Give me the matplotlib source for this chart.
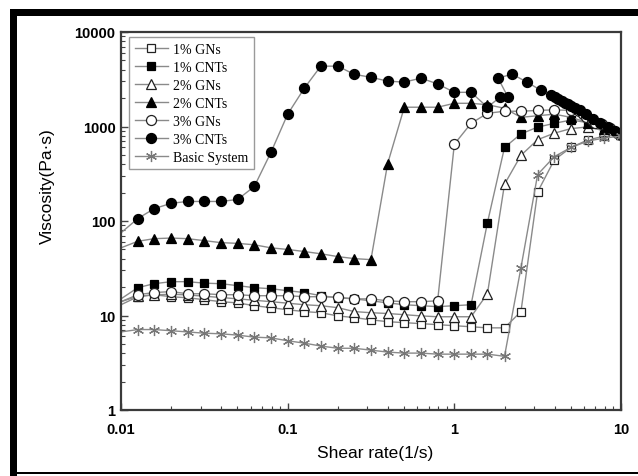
import matplotlib
matplotlib.use('Agg')
import matplotlib.pyplot as plt  # Plot stuff
from matplotlib.patches import Rectangle

# shear rate grid of the sweep (10 points per decade)
shear = [0.01, 0.0126, 0.0158, 0.02, 0.0251, 0.0316, 0.0398, 0.0501, 0.0631, 0.0794,
         0.1, 0.126, 0.158, 0.2, 0.251, 0.316, 0.398, 0.501, 0.631, 0.794,
         1.0, 1.26, 1.58, 2.0, 2.51, 3.16, 3.98, 5.01, 6.31, 7.94, 10.0]

gn1 = [13, 15.8, 16.6, 15.8, 15.4, 14.7, 14, 13.6, 12.7, 12.1,
       11.5, 11, 10.7, 9.9, 9.5, 9.0, 8.6, 8.4, 8.2, 8.0,
       7.8, 7.6, 7.4, 7.4, 11, 203, 443, 600, 720, 790, 820]

cnt1 = [15, 19.7, 21.7, 22.8, 22.8, 22, 21.7, 20.7, 19.7, 19.2,
        18.3, 17.5, 16.2, 15.4, 15, 14.3, 13.6, 13, 12.7, 12.4,
        12.7, 13, 96, 600, 835, 985, 1080, 1170, 1100, 950, 820]

gn2 = [14, 16, 16.5, 16.8, 16.5, 16, 15.5, 15, 14.5, 14,
       13.5, 13, 12.7, 12.1, 11, 10.7, 10.5, 10.2, 9.9, 9.7,
       9.7, 9.7, 17, 245, 495, 725, 850, 950, 990, 900, 830]

cnt2 = [52, 61, 65, 66, 65, 62, 59, 58, 56, 52,
        50, 47.5, 45, 42, 40, 39, 405, 1600, 1600, 1600,
        1760, 1760, 1700, 1560, 1250, 1300, 1350, 1250, 1100, 950, 830]

# 3% GNs has extra readings at the high shear end
shear_gn3 = [0.01, 0.0126, 0.0158, 0.02, 0.0251, 0.0316, 0.0398, 0.0501, 0.0631, 0.0794,
             0.1, 0.126, 0.158, 0.2, 0.251, 0.316, 0.398, 0.501, 0.631, 0.794,
             1.0, 1.26, 1.58, 2.0, 2.51, 3.16, 3.98, 5.0, 5.6, 5.9, 6.2, 6.7, 7.0, 7.7, 8.6, 9.4, 10.0]
gn3 = [14, 16.6, 17.5, 17.9, 17, 17, 16.6, 16.6, 16.2, 16.2,
       16.2, 15.8, 15.8, 15.6, 15, 15, 14.3, 14, 14, 14.3,
       650, 1080, 1380, 1450, 1450, 1480, 1500, 1480, 1450, 1340, 1250, 1160, 1100, 1050, 960, 850, 820]

# 3% CNTs goes back and forth around 2 1/s, then a dense tail
shear_cnt3 = [0.01, 0.0126, 0.0158, 0.02, 0.0251, 0.0316, 0.0398, 0.0501, 0.0631, 0.0794,
              0.1, 0.126, 0.158, 0.2, 0.251, 0.316, 0.398, 0.501, 0.631, 0.794,
              1.0, 1.26, 1.58, 1.88, 2.1, 1.83, 2.22, 2.73, 3.31,
              3.8, 4.0, 4.2, 4.4, 4.6, 4.8, 5.0, 5.3, 5.7, 6.2, 6.8, 7.5, 8.3, 9.2, 10.0]
cnt3 = [75, 106, 135, 154, 161, 161, 161, 169, 232, 533,
        1350, 2550, 4350, 4350, 3560, 3320, 3020, 2950, 3250, 2820,
        2300, 2300, 1600, 2040, 2040, 3250, 3580, 2950, 2410,
        2150, 2050, 1960, 1870, 1790, 1720, 1660, 1580, 1500, 1350, 1200, 1080, 980, 900, 840]

basic = [6.7, 7.1, 7.1, 6.9, 6.7, 6.5, 6.4, 6.2, 5.9, 5.8,
         5.4, 5.1, 4.75, 4.5, 4.5, 4.3, 4.1, 4.0, 4.0, 3.9,
         3.9, 3.9, 3.9, 3.7, 32, 310, 480, 600, 700, 755, 790]

x_ticks = [0.01, 0.1, 1, 10]
x_tick_labels = ['0.01', '0.1', '1', '10']
y_ticks = [1, 10, 100, 1000, 10000]
y_tick_labels = ['1', '10', '100', '1000', '10000']


def plot_viscosity():
    fig = plt.figure(figsize=(6.38, 4.77), dpi=100)
    ax = fig.add_axes([121 / 638, 1 - 411 / 477, 500 / 638, 378 / 477])

    line_col = '#8a8a8a'
    # first point sits on the y axis, its marker is not shown
    common = dict(color=line_col, lw=1.0, markevery=slice(1, None), markeredgewidth=0.9)

    ax.plot(shear, gn1, marker='s', ms=6.2, mfc='white', mec='#222222', label='1% GNs', **common)
    ax.plot(shear, cnt1, marker='s', ms=6.2, mfc='black', mec='black', label='1% CNTs', **common)
    ax.plot(shear, gn2, marker='^', ms=7.2, mfc='white', mec='#222222', label='2% GNs', **common)
    ax.plot(shear, cnt2, marker='^', ms=7.2, mfc='black', mec='black', label='2% CNTs', **common)
    ax.plot(shear_gn3, gn3, marker='o', ms=7.2, mfc='white', mec='#222222', label='3% GNs', **common)
    ax.plot(shear_cnt3, cnt3, marker='o', ms=7.2, mfc='black', mec='black', label='3% CNTs', **common)
    ax.plot(shear, basic, marker=(6, 2, 0), ms=8, mfc='none', mec='#777777', label='Basic System', **common)

    ax.set_xscale('log')
    ax.set_yscale('log')
    ax.set_xlim(0.01, 10)
    ax.set_ylim(1, 10000)

    ax.set_xticks(x_ticks)
    ax.set_xticklabels(x_tick_labels)
    ax.set_yticks(y_ticks)
    ax.set_yticklabels(y_tick_labels)
    for lab in ax.get_xticklabels() + ax.get_yticklabels():
        lab.set_fontfamily('Liberation Sans')
        lab.set_fontweight('bold')
        lab.set_fontsize(10.5)

    ax.tick_params(which='major', direction='in', length=5, width=1, color='#444444',
                   top=False, right=False)
    ax.tick_params(which='minor', direction='in', length=3, width=0.8, color='#444444',
                   top=False, right=False)
    ax.tick_params(axis='x', which='both', pad=9)
    ax.tick_params(axis='y', which='both', pad=4)

    for sp in ax.spines.values():
        sp.set_color('#3a3a3a')
        sp.set_linewidth(1.6)

    ax.set_xlabel('Shear rate(1/s)', fontfamily='Liberation Sans', fontsize=12.5)
    ax.set_ylabel('Viscosity(Pa·s)', fontfamily='Liberation Sans', fontsize=12.5)
    ax.xaxis.set_label_coords((375 - 121) / 500, -(446 - 411) / 378)
    ax.yaxis.set_label_coords(-(121 - 55) / 500, (411 - 186) / 378)

    leg = ax.legend(loc='upper left', bbox_to_anchor=(8 / 500, 1 - 5 / 378),
                    prop={'family': 'Liberation Serif', 'size': 10},
                    fancybox=False, framealpha=1, edgecolor='#9a9a9a',
                    handlelength=2.4, handletextpad=0.4, labelspacing=0.36,
                    borderpad=0.4, borderaxespad=0)
    leg.get_frame().set_linewidth(1.0)

    # black picture frame round the figure
    fig.add_artist(Rectangle((10 / 638, 0), 7 / 638, 1 - 10 / 477, transform=fig.transFigure,
                             color='black', lw=0))
    fig.add_artist(Rectangle((10 / 638, 1 - 17 / 477), 1, 7 / 477, transform=fig.transFigure,
                             color='black', lw=0))
    fig.add_artist(Rectangle((10 / 638, 1 - 475 / 477), 1, 2 / 477, transform=fig.transFigure,
                             color='black', lw=0))

    fig.savefig('out.png', dpi=100)


if __name__ == '__main__':
    plot_viscosity()
